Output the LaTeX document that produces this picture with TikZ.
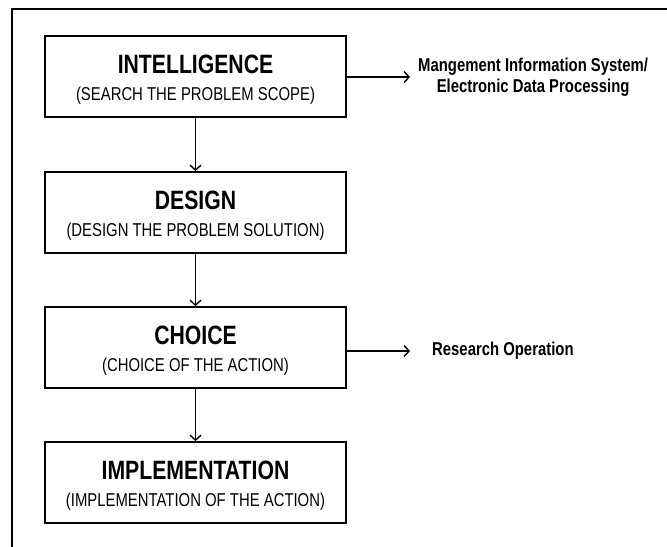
\documentclass[tikz,border=0pt]{standalone}
\usepackage{fontspec}
\setmainfont{Liberation Sans}
\newfontfamily\narrowfont[FakeStretch=0.8]{Liberation Sans}
\usetikzlibrary{arrows.meta}
\begin{document}
\begin{tikzpicture}[x=1bp,y=-1bp,
  stagebox/.style={draw, line width=1.8bp, minimum width=301bp, minimum height=81bp,
    inner sep=0pt, align=center, font=\narrowfont\fontsize{18.6bp}{27bp}\selectfont},
  flow/.style={line width=1.4bp, -{Straight Barb[length=5bp, width=11bp, line width=1.4bp]}},
  sidetext/.style={font=\narrowfont\bfseries\fontsize{18.6bp}{21bp}\selectfont, align=center}
]
\useasboundingbox (0,0) rectangle (667,547);
\draw[line width=1.8bp] (12,547) -- (12,9) -- (667,9);

\newcommand{\stagetext}[2]{{\fontsize{26.5bp}{27bp}\selectfont\bfseries\rule{0pt}{24bp}#1}\\#2}

\node[stagebox] (int) at (195.5,76.5) {\stagetext{INTELLIGENCE}{(SEARCH THE PROBLEM SCOPE)}};
\node[stagebox] (des) at (195.5,212.5) {\stagetext{DESIGN}{(DESIGN THE PROBLEM SOLUTION)}};
\node[stagebox] (cho) at (195.5,347.5) {\stagetext{CHOICE}{(CHOICE OF THE ACTION)}};
\node[stagebox] (imp) at (195.5,482.5) {\stagetext{IMPLEMENTATION}{(IMPLEMENTATION OF THE ACTION)}};

\node[sidetext, inner sep=0pt, anchor=west] (mis) at (418,77.5) {Mangement Information System/\\Electronic Data Processing};
\node[sidetext, inner sep=0pt, anchor=west] (ro) at (432,351) {Research Operation};

\draw[flow] (int) -- (des);
\draw[flow] (des) -- (cho);
\draw[flow] (cho) -- (imp);
\draw[flow] (int.east |- 0,77) -- ([xshift=-8bp]mis.west |- 0,77);
\draw[flow] (cho.east |- ro.west) -- ([xshift=-22bp]ro.west);
\end{tikzpicture}
\end{document}
